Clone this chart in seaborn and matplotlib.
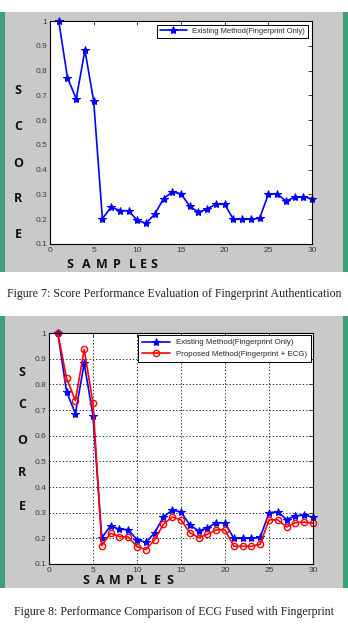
import numpy as np
import pandas as pd
import matplotlib
matplotlib.use("Agg")
import matplotlib.pyplot as plt
from matplotlib.patches import Rectangle
import seaborn as sns

samples = list(range(1, 31))
existing = [1.0, 0.771, 0.686, 0.882, 0.677, 0.202, 0.249, 0.235, 0.234, 0.195,
            0.184, 0.221, 0.283, 0.310, 0.303, 0.252, 0.229, 0.241, 0.261, 0.260,
            0.200, 0.200, 0.200, 0.204, 0.300, 0.303, 0.273, 0.288, 0.290, 0.283]
proposed = [1.0, 0.823, 0.737, 0.936, 0.726, 0.172, 0.220, 0.207, 0.205, 0.168,
            0.156, 0.194, 0.255, 0.283, 0.272, 0.222, 0.203, 0.216, 0.233, 0.233,
            0.169, 0.169, 0.169, 0.177, 0.272, 0.272, 0.244, 0.261, 0.263, 0.259]
label_existing = "Existing Method(Fingerprint Only)"
label_proposed = "Proposed Method(Fingerprint + ECG)"
xticks = [0, 5, 10, 15, 20, 25, 30]
yticks = [0.1, 0.2, 0.3, 0.4, 0.5, 0.6, 0.7, 0.8, 0.9, 1.0]
ytick_labels = ["0.1", "0.2", "0.3", "0.4", "0.5", "0.6", "0.7", "0.8", "0.9", "1"]
caption1 = "Figure 7: Score Performance Evaluation of Fingerprint Authentication"
caption2 = "Figure 8: Performance Comparison of ECG Fused with Fingerprint"
ylabel_letters = "SCORE"
xlabel_letters = "SAMPLES"

sns.set_style("white")
plt.rcParams['font.family'] = ['Liberation Sans', 'DejaVu Sans']

W, H = 348, 628
fig = plt.figure(figsize=(W / 100, H / 100), dpi=100)
fig.patch.set_facecolor("white")

GRAY = "#c9c9c9"
GREEN = "#3f9f78"

def px_rect(x0, y0, x1, y1, color):
    fig.patches.append(Rectangle((x0 / W, 1 - y1 / H), (x1 - x0) / W, (y1 - y0) / H,
                                 transform=fig.transFigure, facecolor=color,
                                 edgecolor="none", zorder=-5))

# panel backgrounds and green side bars
for (y0, y1) in [(12, 272), (316, 588)]:
    px_rect(4, y0, 344, y1, GRAY)
    px_rect(0, y0, 5, y1, GREEN)
    px_rect(343, y0, 348, y1, GREEN)

def make_ax(left, top, right, bottom):
    ax = fig.add_axes([left / W, 1 - bottom / H, (right - left) / W, (bottom - top) / H])
    ax.set_zorder(2)
    return ax

df1 = pd.DataFrame({"x": samples, "y": existing})
df2 = pd.DataFrame({"x": samples, "y": proposed})

def style_ax(ax, grid):
    ax.set_facecolor("white")
    ax.set_xlim(0, 30)
    ax.set_ylim(0.1, 1.0)
    ax.set_xticks(xticks)
    ax.set_xticklabels([str(t) for t in xticks])
    ax.set_yticks(yticks)
    ax.set_yticklabels(ytick_labels)
    ax.tick_params(direction="in", length=3, width=0.6, labelsize=6,
                   labelcolor="#3a3a55", top=True, right=True, pad=2)
    for s in ax.spines.values():
        s.set_visible(True)
        s.set_color("black")
        s.set_linewidth(0.8)
    ax.set_xlabel("")
    ax.set_ylabel("")
    if grid:
        ax.grid(True, linestyle=(0, (1.5, 2.5)), color="black", linewidth=0.6)
        ax.set_axisbelow(True)
    for ln in ax.lines:
        ln.set_clip_on(False)

# ---- panel 1
ax1 = make_ax(50, 21, 312, 244)
sns.lineplot(data=df1, x="x", y="y", ax=ax1, color="#0000ff", marker="*",
             markersize=6, markeredgecolor="#0000ff", linewidth=1.2,
             label=label_existing)
style_ax(ax1, grid=False)
leg1 = ax1.legend(loc="upper right", fontsize=5.4, frameon=True, fancybox=False,
                  edgecolor="black", framealpha=1, borderpad=0.4,
                  handlelength=3.5, borderaxespad=0.5)
leg1.get_frame().set_linewidth(0.7)

# ---- panel 2
ax2 = make_ax(49, 333, 313, 564)
sns.lineplot(data=df1, x="x", y="y", ax=ax2, color="#0000ff", marker="*",
             markersize=6, markeredgecolor="#0000ff", linewidth=1.2,
             label=label_existing)
sns.lineplot(data=df2, x="x", y="y", ax=ax2, color="#ff0000", marker="o",
             markersize=4.5, markerfacecolor="none", markeredgecolor="#ff0000",
             markeredgewidth=1.0, linewidth=1.2, label=label_proposed)
style_ax(ax2, grid=True)
leg2 = ax2.legend(loc="upper right", fontsize=5.7, frameon=True, fancybox=False,
                  edgecolor="black", framealpha=1, borderpad=0.45,
                  handlelength=3.5, borderaxespad=0.3)
leg2.get_frame().set_linewidth(0.7)

# stacked axis labels
bold = dict(fontsize=9, fontweight="bold", family=["Open Sans", "DejaVu Sans"],
            color="#111111", ha="center", va="center")
for ch, yy in zip(ylabel_letters, [91, 127, 164, 199, 235]):
    fig.text(18 / W, 1 - yy / H, ch, **bold)
for ch, yy in zip(ylabel_letters, [372, 405, 440, 473, 507]):
    fig.text(22 / W, 1 - yy / H, ch, **bold)
for ch, xx in zip(xlabel_letters, [70, 86, 102, 117, 132, 143, 154]):
    fig.text(xx / W, 1 - 264 / H, ch, **bold)
for ch, xx in zip(xlabel_letters, [86, 100, 115, 130, 143, 157, 170]):
    fig.text(xx / W, 1 - 581 / H, ch, **bold)

cap = dict(fontsize=8.6, family=["Liberation Serif", "DejaVu Serif"],
           color="#222222", ha="center", va="center")
fig.text(174.5 / W, 1 - 294 / H, caption1, **cap)
fig.text(174 / W, 1 - 612 / H, caption2, **cap)

fig.savefig("out.png", dpi=100)
